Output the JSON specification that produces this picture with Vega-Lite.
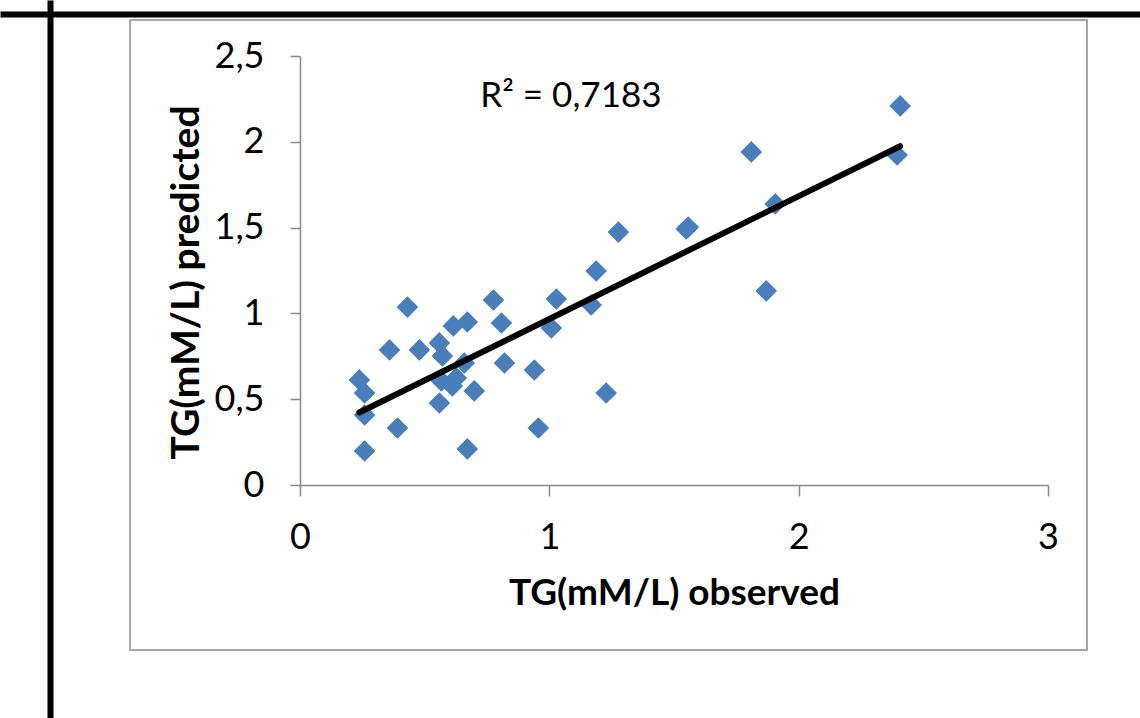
{
  "$schema": "https://vega.github.io/schema/vega-lite/v6.json",
  "width": 957,
  "height": 630,
  "autosize": "none",
  "padding": {"left": 130, "top": 20, "right": 53, "bottom": 68},
  "background": "white",
  "config": {
    "view": {"stroke": "#898989", "strokeWidth": 1.5},
    "font": "Lato"
  },
  "datasets": {
    "tg": [
      {"observed": 0.238, "predicted": 0.612},
      {"observed": 0.259, "predicted": 0.536},
      {"observed": 0.259, "predicted": 0.408},
      {"observed": 0.259, "predicted": 0.198},
      {"observed": 0.359, "predicted": 0.787},
      {"observed": 0.391, "predicted": 0.332},
      {"observed": 0.431, "predicted": 1.037},
      {"observed": 0.479, "predicted": 0.787},
      {"observed": 0.559, "predicted": 0.828},
      {"observed": 0.571, "predicted": 0.752},
      {"observed": 0.559, "predicted": 0.478},
      {"observed": 0.567, "predicted": 0.606},
      {"observed": 0.611, "predicted": 0.577},
      {"observed": 0.627, "predicted": 0.624},
      {"observed": 0.615, "predicted": 0.927},
      {"observed": 0.671, "predicted": 0.950},
      {"observed": 0.659, "predicted": 0.711},
      {"observed": 0.671, "predicted": 0.210},
      {"observed": 0.699, "predicted": 0.548},
      {"observed": 0.776, "predicted": 1.078},
      {"observed": 0.808, "predicted": 0.944},
      {"observed": 0.820, "predicted": 0.711},
      {"observed": 0.940, "predicted": 0.670},
      {"observed": 0.956, "predicted": 0.332},
      {"observed": 1.008, "predicted": 0.915},
      {"observed": 1.028, "predicted": 1.084},
      {"observed": 1.168, "predicted": 1.049},
      {"observed": 1.188, "predicted": 1.247},
      {"observed": 1.228, "predicted": 0.536},
      {"observed": 1.277, "predicted": 1.474},
      {"observed": 1.549, "predicted": 1.492},
      {"observed": 1.557, "predicted": 1.503},
      {"observed": 1.810, "predicted": 1.941},
      {"observed": 1.870, "predicted": 1.131},
      {"observed": 1.906, "predicted": 1.638},
      {"observed": 2.395, "predicted": 1.923},
      {"observed": 2.407, "predicted": 2.209}
    ],
    "note": [
      {"label": "R² = 0,7183"}
    ]
  },
  "layer": [
    {
      "layer": [
        {
          "data": {"name": "tg"},
          "mark": {"type": "point", "shape": "diamond", "filled": true, "size": 470, "color": "#4A7EBB", "opacity": 1},
          "encoding": {
            "x": {
              "field": "observed", "type": "quantitative",
              "scale": {"domain": [0, 3], "range": [170, 918], "nice": false, "zero": false},
              "axis": {
                "orient": "bottom", "offset": -165, "values": [0, 1, 2, 3], "grid": false,
                "domainColor": "#898989", "domainWidth": 1.5, "tickColor": "#898989", "tickWidth": 1.5, "tickSize": 11,
                "labelFontSize": 36, "labelColor": "black", "labelPadding": 24, "labelFlush": false,
                "labelExpr": "replace(format(datum.value, '~g'), '.', ',')",
                "title": "TG(mM/L) observed", "titleFontSize": 37, "titleFontWeight": "bold", "titleColor": "black",
                "titleY": 90
              }
            },
            "y": {
              "field": "predicted", "type": "quantitative",
              "scale": {"domain": [0, 2.5], "range": [465, 36], "nice": false, "zero": false},
              "axis": {
                "orient": "left", "offset": -170, "values": [0, 0.5, 1, 1.5, 2, 2.5], "grid": false,
                "domainColor": "#898989", "domainWidth": 1.5, "tickColor": "#898989", "tickWidth": 1.5, "tickSize": 10,
                "labelFontSize": 36, "labelColor": "black", "labelPadding": 26, "labelFlush": false,
                "labelExpr": "replace(format(datum.value, '~g'), '.', ',')",
                "title": "TG(mM/L) predicted", "titleFontSize": 39, "titleFontWeight": "bold", "titleColor": "black",
                "titleX": -94, "titleY": 262
              }
            }
          }
        },
        {
          "data": {"name": "tg"},
          "transform": [{"regression": "predicted", "on": "observed"}],
          "mark": {"type": "line", "color": "black", "strokeWidth": 6, "strokeCap": "round"},
          "encoding": {
            "x": {"field": "observed", "type": "quantitative"},
            "y": {"field": "predicted", "type": "quantitative"}
          }
        },
        {
          "data": {"name": "note"},
          "mark": {"type": "text", "align": "left", "baseline": "alphabetic", "fontSize": 35, "color": "black"},
          "encoding": {
            "x": {"datum": 0.723},
            "y": {"datum": 2.2},
            "text": {"field": "label"}
          }
        }
      ]
    },
    {
      "data": {"name": "tg"},
      "mark": {"type": "point", "opacity": 0},
      "encoding": {
        "x": {
          "field": "observed", "type": "quantitative",
          "scale": {"domain": [0, 1], "range": [-130, 1010], "nice": false, "zero": false},
          "axis": {"orient": "top", "offset": 6, "labels": false, "ticks": false, "grid": false, "title": null, "domainColor": "black", "domainWidth": 6, "domainCap": "butt"}
        },
        "y": {
          "field": "predicted", "type": "quantitative",
          "scale": {"domain": [0, 1], "range": [698, -20], "nice": false, "zero": false},
          "axis": {"orient": "left", "offset": 80, "labels": false, "ticks": false, "grid": false, "title": null, "domainColor": "black", "domainWidth": 6, "domainCap": "butt"}
        }
      }
    }
  ],
  "resolve": {"scale": {"x": "independent", "y": "independent"}, "axis": {"x": "independent", "y": "independent"}}
}
